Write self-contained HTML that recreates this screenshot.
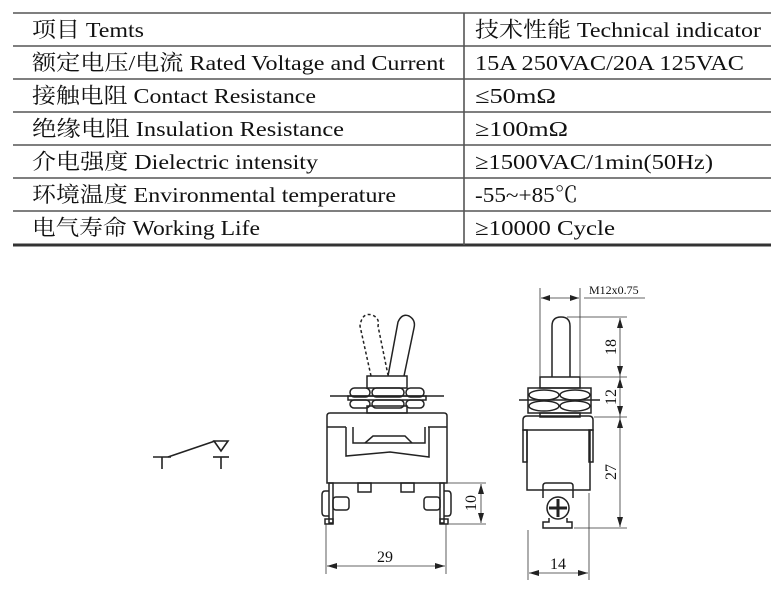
<!DOCTYPE html>
<html><head><meta charset="utf-8"><style>
html,body{margin:0;padding:0;background:#fff;}
svg{display:block;}
text{font-family:"Liberation Serif","Noto Serif CJK SC","Noto Sans CJK SC",serif;fill:#111;}
</style></head><body>
<svg width="782" height="614" viewBox="0 0 782 614" xmlns="http://www.w3.org/2000/svg">
<g stroke="#555" stroke-width="1.6">
<line x1="13" y1="13" x2="771" y2="13"/>
<line x1="13" y1="46" x2="771" y2="46"/>
<line x1="13" y1="79" x2="771" y2="79"/>
<line x1="13" y1="112" x2="771" y2="112"/>
<line x1="13" y1="145" x2="771" y2="145"/>
<line x1="13" y1="178" x2="771" y2="178"/>
<line x1="13" y1="211" x2="771" y2="211"/>
<line x1="13" y1="245" x2="771" y2="245" stroke-width="3" stroke="#333"/>
<line x1="464" y1="13" x2="464" y2="245"/>
</g>
<g font-size="21.5">
<text x="32" y="37" textLength="112" lengthAdjust="spacingAndGlyphs">项目 Temts</text>
<text x="32" y="70" textLength="413" lengthAdjust="spacingAndGlyphs">额定电压/电流  Rated  Voltage and Current</text>
<text x="32" y="103" textLength="284" lengthAdjust="spacingAndGlyphs">接触电阻 Contact Resistance</text>
<text x="32" y="136" textLength="312" lengthAdjust="spacingAndGlyphs">绝缘电阻 Insulation  Resistance</text>
<text x="32" y="169" textLength="286" lengthAdjust="spacingAndGlyphs">介电强度 Dielectric intensity</text>
<text x="32" y="202" textLength="364" lengthAdjust="spacingAndGlyphs">环境温度 Environmental temperature</text>
<text x="32" y="235" textLength="228" lengthAdjust="spacingAndGlyphs">电气寿命 Working Life</text>
<text x="475" y="37" textLength="286" lengthAdjust="spacingAndGlyphs">技术性能 Technical indicator</text>
<text x="475" y="70" textLength="269" lengthAdjust="spacingAndGlyphs">15A 250VAC/20A 125VAC</text>
<text x="475" y="103" textLength="81" lengthAdjust="spacingAndGlyphs">≤50mΩ</text>
<text x="475" y="136" textLength="93" lengthAdjust="spacingAndGlyphs">≥100mΩ</text>
<text x="475" y="169" textLength="238" lengthAdjust="spacingAndGlyphs">≥1500VAC/1min(50Hz)</text>
<text x="475" y="202" textLength="103" lengthAdjust="spacingAndGlyphs">-55~+85℃</text>
<text x="475" y="235" textLength="140" lengthAdjust="spacingAndGlyphs">≥10000 Cycle</text>
</g>

<!-- schematic symbol -->
<g stroke="#222" stroke-width="1.6" fill="none">
<line x1="153" y1="457" x2="171" y2="457"/><line x1="162" y1="457" x2="162" y2="469"/>
<line x1="168" y1="457" x2="215" y2="441"/>
<path d="M214,441 H228 L221,451 Z"/>
<line x1="213" y1="457" x2="229" y2="457"/><line x1="221" y1="457" x2="221" y2="469"/>
</g>

<!-- left front view -->
<g stroke="#222" stroke-width="1.5" fill="none">
<path d="M371,376 L360,326 Q362,312 372,315 Q380,318 378,326 L388,375" stroke-dasharray="3,2.5"/>
<path d="M388,376 L398,322 Q402,313 409,316 Q416,320 414,328 L404,376" fill="#fff"/>
<rect x="367" y="376" width="40" height="12"/>
<rect x="367" y="406" width="40" height="7"/>
<rect x="350" y="388" width="20" height="9" rx="4.5"/><rect x="372" y="388" width="32" height="9" rx="4.5"/><rect x="406" y="388" width="18" height="9" rx="4.5"/>
<rect x="350" y="400" width="20" height="8" rx="4"/><rect x="372" y="400" width="32" height="8" rx="4"/><rect x="406" y="400" width="18" height="8" rx="4"/>
<line x1="330" y1="396" x2="444" y2="396"/>
<rect x="348" y="396" width="78" height="4"/>
<path d="M327,483 V416 Q327,413 330,413 H444 Q447,413 447,416 V483 Z"/>
<path d="M327,427 H346 M428,427 H447"/>
<path d="M346,427 V456 L390,452 L429,457 V427"/>
<path d="M353,427 V443 H425 V427"/>
<path d="M365,443 L373,436 H405 L412,443"/>
<rect x="358" y="483" width="13" height="9"/><rect x="401" y="483" width="13" height="9"/>
<rect x="329" y="483" width="4" height="40"/><rect x="325" y="519" width="8" height="5"/>
<path d="M329,491 H325 Q322,491 322,495 V512 Q322,516 325,516 H329"/>
<rect x="333" y="497" width="16" height="13" rx="3"/>
<rect x="440" y="483" width="4" height="40"/><rect x="440" y="519" width="8" height="5"/>
<path d="M444,491 H448 Q451,491 451,495 V512 Q451,516 448,516 H444"/>
<rect x="424" y="497" width="16" height="13" rx="3"/>
</g>
<g stroke="#333" stroke-width="0.8" fill="none">
<line x1="326" y1="524" x2="326" y2="574"/><line x1="446" y1="524" x2="446" y2="574"/>
<line x1="327" y1="566" x2="445" y2="566"/>
<line x1="447" y1="483" x2="486" y2="483"/><line x1="449" y1="524" x2="486" y2="524"/>
<line x1="481" y1="484" x2="481" y2="523"/>
</g>
<g fill="#222">
<path d="M327,566 l10,-3 v6 z"/><path d="M445,566 l-10,-3 v6 z"/>
<path d="M481,484 l-3,10 h6 z"/><path d="M481,523 l-3,-10 h6 z"/>
</g>
<text x="385" y="562" font-size="16" text-anchor="middle">29</text>
<text x="0" y="0" font-size="16" text-anchor="middle" transform="translate(476,503) rotate(-90)">10</text>

<!-- right side view -->
<g stroke="#222" stroke-width="1.5" fill="none">
<path d="M552,377 V326 Q552,317 561,317 Q570,317 570,326 V377"/>
<rect x="540" y="377" width="40" height="11"/>
<rect x="540" y="413" width="40" height="4"/>
<rect x="528" y="388" width="63" height="25"/>
<ellipse cx="544" cy="395" rx="15" ry="5"/><ellipse cx="575" cy="395" rx="15" ry="5"/>
<ellipse cx="544" cy="406" rx="15" ry="5"/><ellipse cx="575" cy="406" rx="15" ry="5"/>
<line x1="519" y1="400" x2="600" y2="400"/>
<path d="M523,430 V420 Q523,416 527,416 H589 Q593,416 593,420 V430 Z"/>
<path d="M527,430 V490 H590 V430"/>
<rect x="523" y="430" width="4" height="32"/><rect x="589" y="430" width="4" height="32"/>
<path d="M543,498 V486 Q543,483 546,483 H570 Q573,483 573,486 V498"/>
<circle cx="558" cy="508" r="11"/>
<path d="M549,508 H567 M558,499 V517" stroke-width="3"/>
<path d="M549,518 V522 H543 V528 H572 V522 H567 V518"/>
</g>
<g stroke="#333" stroke-width="0.8" fill="none">
<line x1="540" y1="288" x2="540" y2="377"/><line x1="580" y1="288" x2="580" y2="377"/>
<line x1="541" y1="298" x2="579" y2="298"/><line x1="584" y1="298" x2="645" y2="298"/>
<line x1="567" y1="317" x2="627" y2="317"/>
<line x1="581" y1="377" x2="627" y2="377"/>
<line x1="594" y1="417" x2="627" y2="417"/>
<line x1="574" y1="528" x2="627" y2="528"/>
<line x1="620" y1="318" x2="620" y2="527"/>
<line x1="528" y1="530" x2="528" y2="580"/><line x1="589" y1="493" x2="589" y2="580"/>
<line x1="529" y1="573" x2="588" y2="573"/>
</g>
<g fill="#222">
<path d="M541,298 l9,-3 v6 z"/><path d="M579,298 l-9,-3 v6 z"/>
<path d="M620,318 l-3,10 h6 z"/><path d="M620,376 l-3,-10 h6 z"/>
<path d="M620,378 l-3,10 h6 z"/><path d="M620,416 l-3,-10 h6 z"/>
<path d="M620,418 l-3,10 h6 z"/><path d="M620,527 l-3,-10 h6 z"/>
<path d="M529,573 l10,-3 v6 z"/><path d="M588,573 l-10,-3 v6 z"/>
</g>
<text x="589" y="294" font-size="12">M12x0.75</text>
<text x="558" y="569" font-size="16" text-anchor="middle">14</text>
<text font-size="16" text-anchor="middle" transform="translate(616,347) rotate(-90)">18</text>
<text font-size="16" text-anchor="middle" transform="translate(616,397) rotate(-90)">12</text>
<text font-size="16" text-anchor="middle" transform="translate(616,472) rotate(-90)">27</text>
</svg>
</body></html>
